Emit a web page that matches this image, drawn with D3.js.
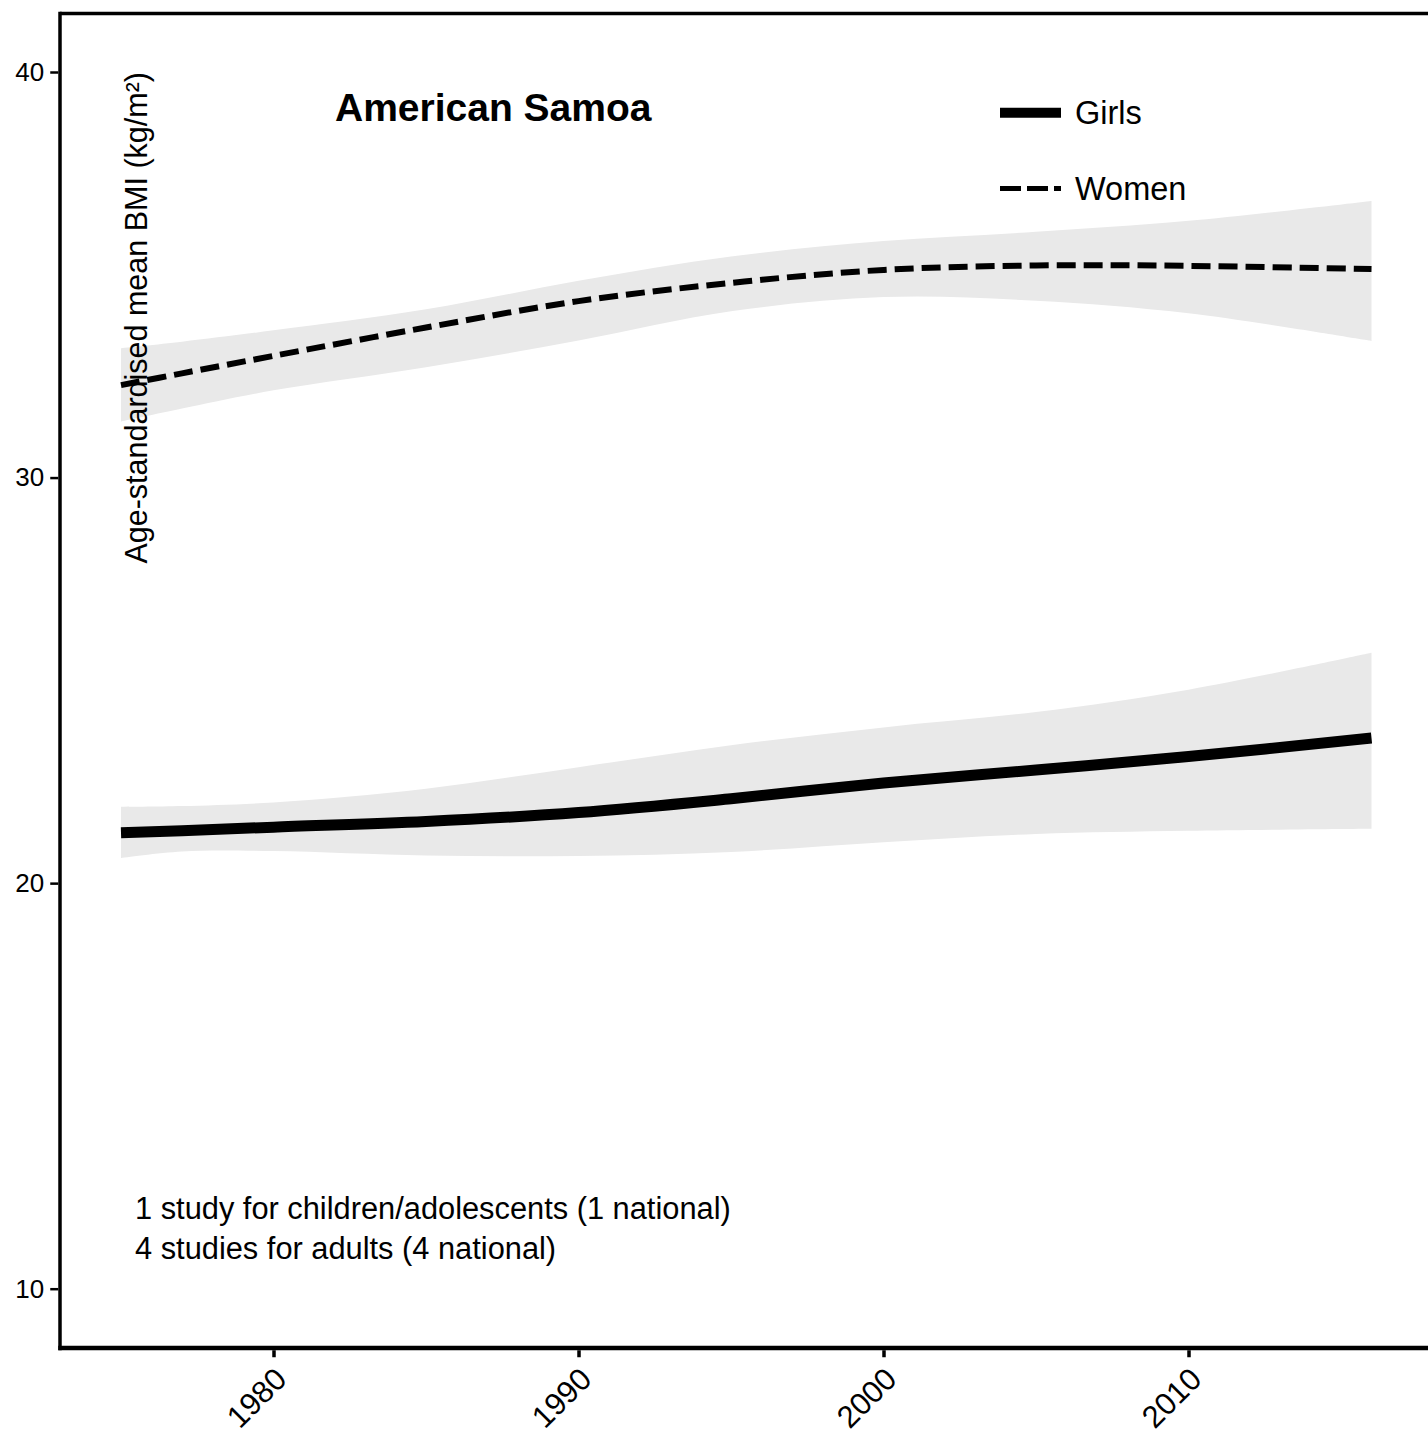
<!DOCTYPE html>
<html>
<head>
<meta charset="utf-8">
<script src="https://cdn.jsdelivr.net/npm/d3@7"></script>
<style>
  html, body { margin: 0; padding: 0; background: #fff; }
  svg { display: block; }
  text { font-family: "Liberation Sans", Arial, Helvetica, sans-serif; fill: #000; }
</style>
</head>
<body>
<svg id="chart" width="1428" height="1448"></svg>
<script>
// ---- data ----
const years      = [1975, 1977, 1980, 1985, 1990, 1995, 2000, 2005, 2010, 2016];
const girlsMean  = [21.24, 21.29, 21.38, 21.52, 21.74, 22.08, 22.47, 22.79, 23.12, 23.58];
const girlsLow   = [20.62, 20.78, 20.79, 20.68, 20.67, 20.77, 21.01, 21.21, 21.29, 21.34];
const girlsHigh  = [21.88, 21.90, 21.99, 22.33, 22.86, 23.40, 23.84, 24.22, 24.77, 25.68];
const womenMean  = [32.28, 32.57, 33.00, 33.70, 34.35, 34.80, 35.12, 35.23, 35.22, 35.14];
const womenLow   = [31.38, 31.70, 32.15, 32.72, 33.38, 34.10, 34.45, 34.36, 34.05, 33.37];
const womenHigh  = [33.19, 33.35, 33.63, 34.15, 34.85, 35.45, 35.83, 36.06, 36.33, 36.82];
const xTicks = [1980, 1990, 2000, 2010];
const yTicks = [10, 20, 30, 40];
const titleText = "American Samoa";
const yTitle = "Age-standardised mean BMI (kg/m²)";
const legendLabels = ["Girls", "Women"];
const noteLines = ["1 study for children/adolescents (1 national)", "4 studies for adults (4 national)"];

// ---- layout ----
const svg = d3.select("#chart");
const padL = 60, padT = 13.5, padR = 1428, padB = 1348;

const x = d3.scaleLinear().domain([1980, 2010]).range([273.5, 1188.5]);
const y = d3.scaleLinear().domain([10, 40]).range([1288.7, 72]);

const girls = years.map((yr, i) => ({ yr, m: girlsMean[i], lo: girlsLow[i], hi: girlsHigh[i] }));
const women = years.map((yr, i) => ({ yr, m: womenMean[i], lo: womenLow[i], hi: womenHigh[i] }));

const curve = d3.curveCatmullRom.alpha(0.5);
const area = d3.area().x(d => x(d.yr)).y0(d => y(d.lo)).y1(d => y(d.hi)).curve(curve);
const line = d3.line().x(d => x(d.yr)).y(d => y(d.m)).curve(curve);

// bands
svg.append("path").datum(women).attr("d", area).attr("fill", "#e9e9e9");
svg.append("path").datum(girls).attr("d", area).attr("fill", "#e9e9e9");

// lines
svg.append("path").datum(women).attr("d", line)
  .attr("fill", "none").attr("stroke", "#000").attr("stroke-width", 6)
  .attr("stroke-dasharray", "19,8");
svg.append("path").datum(girls).attr("d", line)
  .attr("fill", "none").attr("stroke", "#000").attr("stroke-width", 11);

// frame lines
svg.append("line").attr("x1", padL).attr("x2", padR).attr("y1", padT).attr("y2", padT)
  .attr("stroke", "#000").attr("stroke-width", 3.5);
svg.append("line").attr("x1", padL).attr("x2", padL).attr("y1", padT - 1.75).attr("y2", padB + 2.25)
  .attr("stroke", "#000").attr("stroke-width", 3.5);
svg.append("line").attr("x1", padL - 1.75).attr("x2", padR).attr("y1", padB).attr("y2", padB)
  .attr("stroke", "#000").attr("stroke-width", 4.5);

// y axis
const yAxis = svg.append("g").attr("transform", `translate(${padL - 1.75},0)`)
  .call(d3.axisLeft(y).tickValues(yTicks).tickSize(8).tickPadding(6).tickFormat(d3.format("d")));
yAxis.select(".domain").remove();
yAxis.selectAll(".tick line").attr("stroke", "#000").attr("stroke-width", 2.5);
yAxis.selectAll(".tick text").attr("font-size", "26px").attr("fill", "#000");

// x axis
const xAxis = svg.append("g").attr("transform", `translate(0,${padB + 2.25})`)
  .call(d3.axisBottom(x).tickValues(xTicks).tickSize(7).tickFormat(d3.format("d")));
xAxis.select(".domain").remove();
xAxis.selectAll(".tick line").attr("stroke", "#000").attr("stroke-width", 3.5);
xAxis.selectAll(".tick text").remove();
svg.append("g").selectAll("text").data(xTicks).join("text")
  .attr("transform", d => `translate(${x(d) + 15},${1381}) rotate(-45)`)
  .attr("text-anchor", "end")
  .attr("font-size", "31px")
  .text(d => d);

// y axis title (inside panel)
svg.append("text")
  .attr("transform", `translate(147,72) rotate(-90)`)
  .attr("text-anchor", "end")
  .attr("font-size", "30.5px")
  .text(yTitle);

// title
svg.append("text").attr("x", 335).attr("y", 121)
  .attr("font-size", "39px").attr("font-weight", "bold")
  .text(titleText);

// legend
const legendY = [112.7, 188.5];
svg.append("line").attr("x1", 1000).attr("x2", 1061).attr("y1", legendY[0]).attr("y2", legendY[0])
  .attr("stroke", "#000").attr("stroke-width", 10);
svg.append("line").attr("x1", 1000).attr("x2", 1061).attr("y1", legendY[1]).attr("y2", legendY[1])
  .attr("stroke", "#000").attr("stroke-width", 5).attr("stroke-dasharray", "21,6");
svg.append("g").selectAll("text").data(legendLabels).join("text")
  .attr("x", 1075).attr("y", (d, i) => legendY[i] + 11)
  .attr("font-size", "32.5px")
  .text(d => d);

// note
svg.append("g").selectAll("text").data(noteLines).join("text")
  .attr("x", 135).attr("y", (d, i) => 1219 + i * 40)
  .attr("font-size", "30.8px")
  .text(d => d);
</script>
</body>
</html>
